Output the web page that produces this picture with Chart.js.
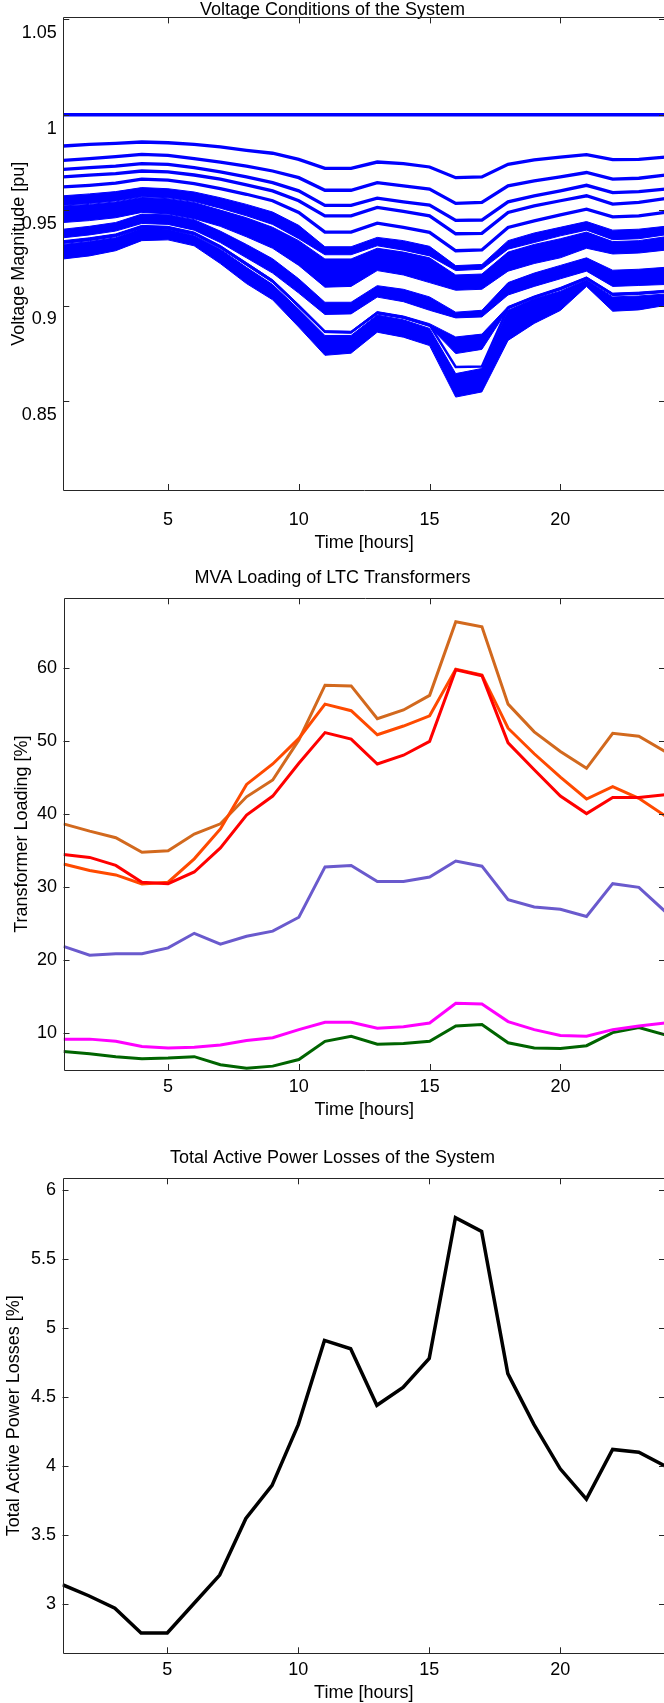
<!DOCTYPE html>
<html>
<head>
<meta charset="utf-8">
<script src="https://cdn.jsdelivr.net/npm/chart.js@4.4.0/dist/chart.umd.min.js"></script>
<style>
  html, body { margin: 0; padding: 0; background: #fff; width: 664px; height: 1703px; overflow: hidden; }
  canvas { position: absolute; left: 0; }
  #voltChart { top: 0; }
  #loadChart { top: 560px; }
  #lossChart { top: 1130px; }
</style>
</head>
<body>
<canvas id="voltChart" width="670" height="560"></canvas>
<canvas id="loadChart" width="670" height="570"></canvas>
<canvas id="lossChart" width="670" height="573"></canvas>
<script>
// --- data ---
const hours = [1, 2, 3, 4, 5, 6, 7, 8, 9, 10, 11, 12, 13, 14, 15, 16, 17, 18, 19, 20, 21, 22, 23, 24];
const hourTicks = [5, 10, 15, 20];

// 1. bus voltages [pu] - single lines and bands (upper/lower edges)
const voltTicks = [0.85, 0.9, 0.95, 1, 1.05];
const voltSlack = [1, 1, 1, 1, 1, 1, 1, 1, 1, 1, 1, 1, 1, 1, 1, 1, 1, 1, 1, 1, 1, 1, 1, 1];
const voltA = [0.9836, 0.9845, 0.9850, 0.9857, 0.9853, 0.9845, 0.9831, 0.9813, 0.9798, 0.9766, 0.9719, 0.9719, 0.9752, 0.9744, 0.9726, 0.9670, 0.9674, 0.9740, 0.9763, 0.9778, 0.9791, 0.9765, 0.9766, 0.9778];
const voltB = [0.9761, 0.9770, 0.9780, 0.9792, 0.9787, 0.9770, 0.9752, 0.9731, 0.9705, 0.9670, 0.9604, 0.9604, 0.9644, 0.9627, 0.9610, 0.9535, 0.9540, 0.9627, 0.9653, 0.9674, 0.9697, 0.9662, 0.9667, 0.9683];
const voltC = [0.9714, 0.9723, 0.9731, 0.9744, 0.9740, 0.9723, 0.9700, 0.9674, 0.9644, 0.9601, 0.9525, 0.9525, 0.9563, 0.9543, 0.9526, 0.9446, 0.9448, 0.9543, 0.9575, 0.9601, 0.9630, 0.9592, 0.9597, 0.9610];
const voltD = [0.9674, 0.9683, 0.9691, 0.9705, 0.9700, 0.9684, 0.9662, 0.9632, 0.9601, 0.9549, 0.9470, 0.9470, 0.9514, 0.9493, 0.9470, 0.9376, 0.9378, 0.9488, 0.9522, 0.9549, 0.9575, 0.9531, 0.9540, 0.9560];
const voltE = [0.9622, 0.9630, 0.9641, 0.9662, 0.9657, 0.9639, 0.9613, 0.9583, 0.9549, 0.9488, 0.9385, 0.9385, 0.9432, 0.9409, 0.9383, 0.9287, 0.9291, 0.9409, 0.9444, 0.9475, 0.9505, 0.9465, 0.9470, 0.9488];
const voltFUp = [0.9575, 0.9585, 0.9597, 0.9618, 0.9612, 0.9595, 0.9565, 0.9530, 0.9490, 0.9420, 0.9308, 0.9308, 0.9357, 0.9340, 0.9310, 0.9209, 0.9215, 0.9340, 0.9380, 0.9410, 0.9440, 0.9395, 0.9400, 0.9415];
const voltFLow = [0.9526, 0.9535, 0.9548, 0.9570, 0.9565, 0.9545, 0.9510, 0.9470, 0.9425, 0.9350, 0.9266, 0.9266, 0.9313, 0.9290, 0.9260, 0.9183, 0.9190, 0.9295, 0.9330, 0.9365, 0.9395, 0.9345, 0.9350, 0.9370];
const voltGUp = [0.9522, 0.9530, 0.9543, 0.9566, 0.9560, 0.9540, 0.9500, 0.9460, 0.9410, 0.9340, 0.9244, 0.9244, 0.9300, 0.9280, 0.9250, 0.9160, 0.9165, 0.9280, 0.9320, 0.9350, 0.9385, 0.9335, 0.9340, 0.9360];
const voltGLow = [0.9435, 0.9445, 0.9460, 0.9488, 0.9480, 0.9455, 0.9415, 0.9360, 0.9300, 0.9210, 0.9096, 0.9100, 0.9183, 0.9160, 0.9120, 0.9080, 0.9085, 0.9180, 0.9220, 0.9250, 0.9300, 0.9270, 0.9275, 0.9290];
const voltH1Up = [0.9400, 0.9415, 0.9435, 0.9479, 0.9475, 0.9450, 0.9390, 0.9320, 0.9245, 0.9140, 0.9017, 0.9017, 0.9104, 0.9085, 0.9045, 0.8965, 0.8975, 0.9120, 0.9170, 0.9210, 0.9250, 0.9185, 0.9190, 0.9200];
const voltH1Low = [0.9355, 0.9370, 0.9390, 0.9430, 0.9425, 0.9395, 0.9330, 0.9250, 0.9170, 0.9065, 0.8953, 0.8956, 0.9044, 0.9020, 0.8975, 0.8935, 0.8940, 0.9055, 0.9100, 0.9140, 0.9180, 0.9100, 0.9105, 0.9110];
const voltH2Up = [0.9340, 0.9355, 0.9375, 0.9420, 0.9415, 0.9385, 0.9315, 0.9225, 0.9135, 0.9005, 0.8868, 0.8865, 0.8968, 0.8945, 0.8905, 0.8835, 0.8850, 0.8995, 0.9050, 0.9095, 0.9150, 0.9065, 0.9070, 0.9080];
const voltH2Low = [0.9325, 0.9340, 0.9360, 0.9405, 0.9400, 0.9370, 0.9300, 0.9210, 0.9120, 0.8990, 0.8858, 0.8855, 0.8955, 0.8932, 0.8890, 0.8748, 0.8770, 0.8982, 0.9038, 0.9082, 0.9138, 0.9052, 0.9058, 0.9068];
const voltDip = [0.9333, 0.9348, 0.9368, 0.9412, 0.9408, 0.9378, 0.9308, 0.9218, 0.9128, 0.8998, 0.8863, 0.8860, 0.8962, 0.8938, 0.8898, 0.8678, 0.8680, 0.8988, 0.9044, 0.9088, 0.9144, 0.9058, 0.9064, 0.9074];
const voltH3Up = [0.9320, 0.9335, 0.9355, 0.9405, 0.9400, 0.9365, 0.9295, 0.9200, 0.9110, 0.8980, 0.8843, 0.8843, 0.8950, 0.8925, 0.8880, 0.8643, 0.8670, 0.8975, 0.9035, 0.9075, 0.9135, 0.9045, 0.9050, 0.9060];
const voltH3Low = [0.9244, 0.9260, 0.9287, 0.9340, 0.9344, 0.9313, 0.9220, 0.9115, 0.9030, 0.8887, 0.8739, 0.8750, 0.8860, 0.8834, 0.8790, 0.8520, 0.8547, 0.8817, 0.8906, 0.8974, 0.9100, 0.8970, 0.8977, 0.9000];

// 2. transformer loading [%]
const loadTicks = [10, 20, 30, 40, 50, 60];
const loadBrown = [38.7, 37.7, 36.8, 34.8, 35.0, 37.3, 38.7, 42.4, 44.7, 50.2, 57.7, 57.6, 53.1, 54.3, 56.3, 66.4, 65.7, 55.1, 51.3, 48.6, 46.3, 51.1, 50.7, 48.6];
const loadOrange = [33.2, 32.3, 31.7, 30.45, 30.7, 33.9, 38.0, 44.1, 46.9, 50.4, 55.1, 54.2, 50.9, 52.1, 53.5, 59.9, 59.1, 51.8, 48.3, 45.1, 42.1, 43.8, 42.2, 39.8];
const loadRed = [34.5, 34.1, 33.0, 30.7, 30.5, 32.1, 35.4, 39.9, 42.5, 47.0, 51.2, 50.3, 46.9, 48.1, 50.0, 59.8, 59.0, 49.8, 46.1, 42.5, 40.1, 42.3, 42.3, 42.7];
const loadPurple = [21.9, 20.7, 20.9, 20.9, 21.7, 23.7, 22.2, 23.3, 24.0, 25.9, 32.8, 33.0, 30.8, 30.8, 31.4, 33.6, 32.9, 28.3, 27.3, 27.0, 26.0, 30.5, 30.0, 26.7];
const loadMagenta = [9.2, 9.2, 8.9, 8.2, 8.0, 8.1, 8.4, 9.0, 9.4, 10.5, 11.5, 11.5, 10.7, 10.9, 11.4, 14.1, 14.0, 11.6, 10.5, 9.7, 9.6, 10.5, 11.0, 11.4];
const loadGreen = [7.5, 7.2, 6.8, 6.5, 6.6, 6.8, 5.7, 5.2, 5.5, 6.4, 8.9, 9.6, 8.5, 8.6, 8.9, 11.0, 11.2, 8.7, 8.0, 7.9, 8.3, 10.1, 10.8, 9.8];

// 3. total active power losses [%]
const lossTicks = [3, 3.5, 4, 4.5, 5, 5.5, 6];
const lossTotal = [3.14, 3.06, 2.97, 2.79, 2.79, 3.00, 3.21, 3.62, 3.86, 4.30, 4.91, 4.85, 4.44, 4.57, 4.78, 5.80, 5.70, 4.67, 4.30, 3.98, 3.76, 4.12, 4.10, 4.00];

// --- helpers ---
Chart.defaults.font.family = '"Liberation Sans", Arial, Helvetica, sans-serif';
Chart.defaults.font.size = 18;
Chart.defaults.color = '#000';

const pts = arr => hours.map((h, i) => ({ x: h, y: arr[i] }));

function line(arr, color, width, fill) {
  return {
    data: pts(arr), borderColor: color, backgroundColor: color,
    borderWidth: width, pointRadius: 0, tension: 0, fill: fill || false
  };
}

// matlab-like box with inward ticks on all four sides
const boxTicks = {
  id: 'boxTicks',
  afterDatasetsDraw(chart) {
    const { ctx, chartArea: a, scales: { x, y } } = chart;
    const len = 6;
    ctx.save();
    ctx.strokeStyle = '#262626';
    ctx.lineWidth = 1;
    ctx.beginPath();
    ctx.rect(Math.round(a.left) + 0.5, Math.round(a.top) + 0.5, Math.round(a.right - a.left), Math.round(a.bottom - a.top));
    x.ticks.forEach(t => {
      const px = Math.round(x.getPixelForValue(t.value)) + 0.5;
      ctx.moveTo(px, a.bottom); ctx.lineTo(px, a.bottom - len);
      ctx.moveTo(px, a.top); ctx.lineTo(px, a.top + len);
    });
    y.ticks.forEach(t => {
      const py = Math.round(y.getPixelForValue(t.value)) + 0.5;
      ctx.moveTo(a.left, py); ctx.lineTo(a.left + len, py);
      ctx.moveTo(a.right, py); ctx.lineTo(a.right - len, py);
    });
    ctx.stroke();
    ctx.restore();
  }
};

function makeOptions(o) {
  return {
    responsive: false,
    animation: false,
    devicePixelRatio: 1,
    layout: { padding: { left: 0, right: 5, top: 0, bottom: 0 } },
    plugins: {
      legend: { display: false },
      tooltip: { enabled: false },
      title: {
        display: true, text: o.title, color: '#000',
        font: { size: 18, weight: 'normal', lineHeight: o.titleLH },
        padding: o.titlePad
      }
    },
    scales: {
      x: {
        type: 'linear', min: 1, max: 24,
        afterBuildTicks: s => { s.ticks = hourTicks.map(v => ({ value: v })); },
        afterFit: s => { s.height = o.xHeight; },
        grid: { display: false, drawTicks: false }, border: { display: false },
        ticks: { padding: o.xPad, maxRotation: 0, autoSkip: false, color: '#000' },
        title: { display: true, text: 'Time [hours]', color: '#000', font: { size: 18, lineHeight: 1 }, padding: { top: 0, bottom: o.xTitleBottom } }
      },
      y: {
        type: 'linear', min: o.yMin, max: o.yMax,
        afterBuildTicks: s => { s.ticks = o.yTicks.map(v => ({ value: v })); },
        afterFit: s => { s.width = o.yWidth; },
        grid: { display: false, drawTicks: false }, border: { display: false },
        ticks: { padding: 6.5, labelOffset: o.yLabelOffset || 0, color: '#000', callback: v => String(v) },
        title: { display: true, text: o.yTitle, color: '#000', font: { size: 18, lineHeight: 1.2 }, padding: { top: o.yTitleTop, bottom: 0 } }
      }
    }
  };
}

// --- 1. Voltage chart ---
const blue = '#0000ff';
new Chart(document.getElementById('voltChart'), {
  type: 'line',
  data: {
    datasets: [
      line(voltSlack, blue, 3.5),
      line(voltA, blue, 3.3),
      line(voltB, blue, 3.3),
      line(voltC, blue, 3.3),
      line(voltD, blue, 3.3),
      line(voltE, blue, 3.3),
      line(voltFUp, blue, 1), line(voltFLow, blue, 1, '-1'),
      line(voltGUp, blue, 1), line(voltGLow, blue, 1, '-1'),
      line(voltH1Up, blue, 1), line(voltH1Low, blue, 1, '-1'),
      line(voltH2Up, blue, 1), line(voltH2Low, blue, 1, '-1'),
      line(voltDip, blue, 2.5),
      line(voltH3Up, blue, 1), line(voltH3Low, blue, 1, '-1')
    ]
  },
  options: makeOptions({
    title: 'Voltage Conditions of the System', titleLH: 0.8, titlePad: { top: 3, bottom: 0 },
    xHeight: 70, xPad: 19, xTitleBottom: 8,
    yMin: 0.8033, yMax: 1.051, yTicks: voltTicks, yWidth: 63.3, yLabelOffset: 14,
    yTitle: 'Voltage Magnitude [pu]', yTitleTop: 8.2
  }),
  plugins: [boxTicks]
});

// --- 2. Transformer loading chart ---
new Chart(document.getElementById('loadChart'), {
  type: 'line',
  data: {
    datasets: [
      line(loadRed, '#ff0000', 3),
      line(loadOrange, '#ff4a00', 3),
      line(loadBrown, '#d2691e', 3),
      line(loadPurple, '#6a5acd', 3),
      line(loadMagenta, '#ff00ff', 3),
      line(loadGreen, '#006400', 3)
    ]
  },
  options: makeOptions({
    title: 'MVA Loading of LTC Transformers', titleLH: 1.2, titlePad: { top: 6.8, bottom: 9.9 },
    xHeight: 60, xPad: 6, xTitleBottom: 11,
    yMin: 4.97, yMax: 69.6, yTicks: loadTicks, yWidth: 63.5,
    yTitle: 'Transformer Loading [%]', yTitleTop: 11.2
  }),
  plugins: [boxTicks]
});

// --- 3. Losses chart ---
new Chart(document.getElementById('lossChart'), {
  type: 'line',
  data: { datasets: [line(lossTotal, '#000000', 3.5)] },
  options: makeOptions({
    title: 'Total Active Power Losses of the System', titleLH: 1.2, titlePad: { top: 16.8, bottom: 9.9 },
    xHeight: 49.7, xPad: 6, xTitleBottom: 1,
    yMin: 2.643, yMax: 6.085, yTicks: lossTicks, yWidth: 62.5,
    yTitle: 'Total Active Power Losses [%]', yTitleTop: 3
  }),
  plugins: [boxTicks]
});
</script>
</body>
</html>
